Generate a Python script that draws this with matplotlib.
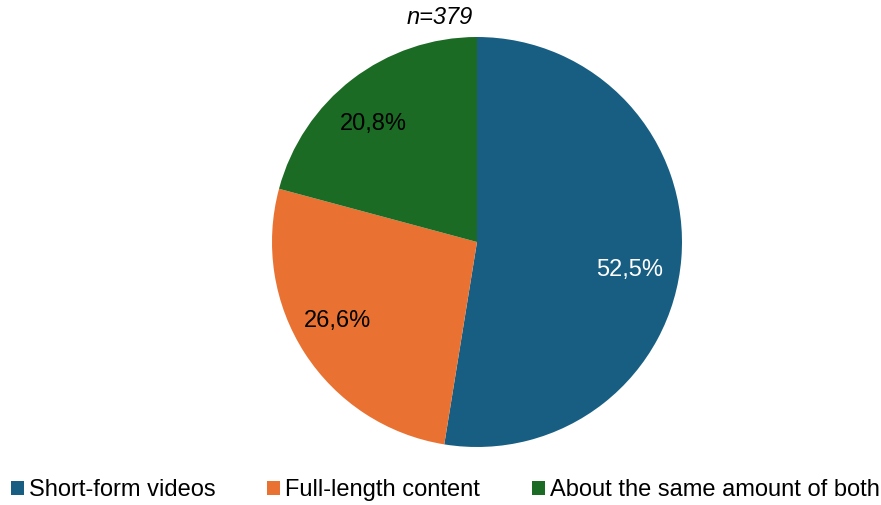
import matplotlib
matplotlib.use("Agg")
import matplotlib.pyplot as plt
from matplotlib.patches import Patch
import numpy as np

plt.rcParams['font.family'] = ['Liberation Sans', 'DejaVu Sans']

categories = ["Short-form videos", "Full-length content", "About the same amount of both"]
shares = [52.5, 26.6, 20.8]
labels = ["52,5%", "26,6%", "20,8%"]
colors = ["#175e82", "#e97132", "#1b6b24"]
label_colors = ["white", "black", "black"]
sample_note = "n=379"

# label placement inside each wedge: radial distance and angular nudge (degrees)
label_radius = [0.755, 0.775, 0.775]
label_nudge = [-4.8, -4.1, 3.2]

W, H = 881, 505
fig = plt.figure(figsize=(W / 100, H / 100), dpi=100)

cx, cy, r = 477, 242, 205
ax = fig.add_axes([(cx - r) / W, (H - cy - r) / H, 2 * r / W, 2 * r / H])
ax.pie(shares, colors=colors, startangle=90, counterclock=False,
       radius=1.0, wedgeprops=dict(linewidth=0))
ax.set_xlim(-1, 1)
ax.set_ylim(-1, 1)
ax.set_aspect("equal")
ax.axis("off")

total = sum(shares)
start = 90.0
for w, lab, lc, rad, nudge in zip(shares, labels, label_colors, label_radius, label_nudge):
    span = 360.0 * w / total
    mid = np.deg2rad(start - span / 2 + nudge)
    ax.text(rad * np.cos(mid), rad * np.sin(mid), lab, ha="center", va="center_baseline",
            fontsize=17, color=lc)
    start -= span

fig.text(440 / W, 1 - 17 / H, sample_note, ha="center", va="center",
         fontsize=17, style="italic")

handles = [Patch(facecolor=c, edgecolor="none") for c in colors]
fig.legend(handles, categories, loc="center", bbox_to_anchor=(0.5055, 1 - 490 / H),
           ncol=3, frameon=False, fontsize=17, handlelength=0.55, handleheight=0.55,
           handletextpad=0.2, columnspacing=2.2, borderaxespad=0)

fig.savefig("out.png", dpi=100)
